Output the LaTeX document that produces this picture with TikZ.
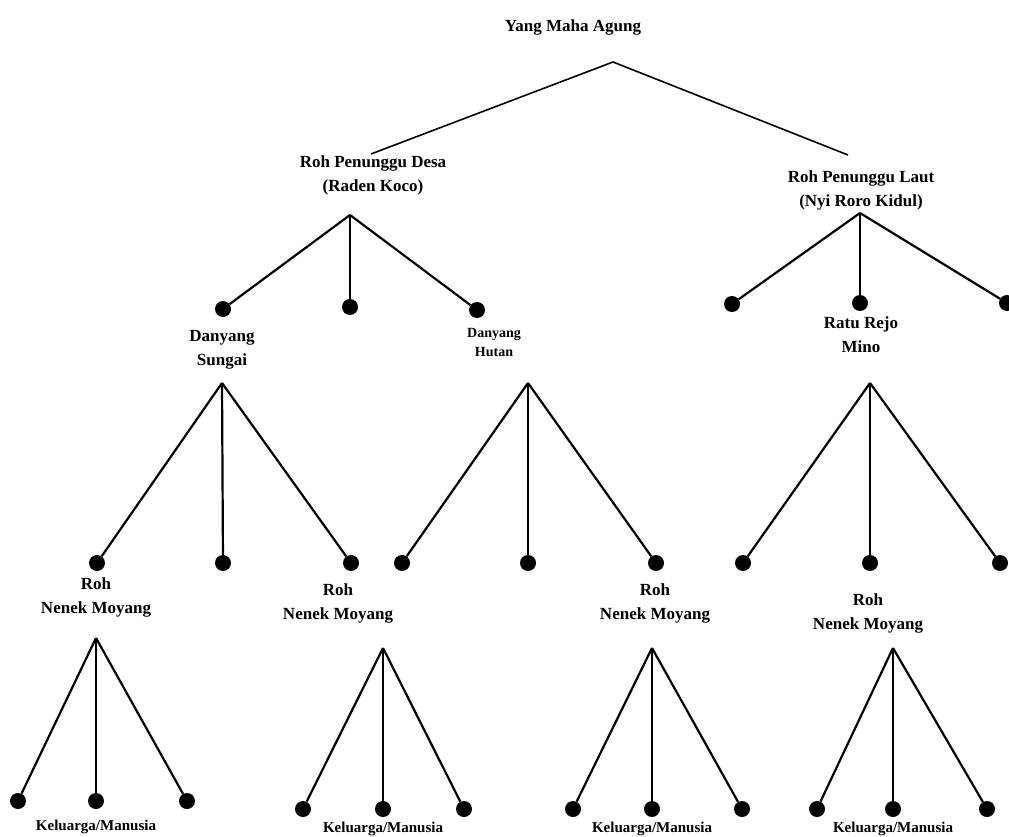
\documentclass[tikz,border=0pt]{standalone}
\usepackage{fontspec}
\setmainfont{Liberation Serif}
\usetikzlibrary{positioning}

\begin{document}
\begin{tikzpicture}[x=1pt, y=-1pt,
    lbl/.style={font=\bfseries\fontsize{17}{24}\selectfont, align=center, inner sep=0pt},
    lblsmall/.style={font=\bfseries\fontsize{14}{19}\selectfont, align=center, inner sep=0pt},
    lblfam/.style={font=\bfseries\fontsize{15}{18}\selectfont, inner sep=0pt},
    dot/.style={circle, fill=black, inner sep=0pt, minimum size=16pt},
    branch/.style={line width=2.2pt},
    toplink/.style={line width=1.6pt}]
    \useasboundingbox (0,0) rectangle (1009,837);

    % Top
    \node[lbl] (agung) at (573,27) {Yang Maha Agung};
    \coordinate (apex0) at (613,62);
    \coordinate (endDesa) at (371,154);
    \coordinate (endLaut) at (848,155);
    \draw[toplink] (endDesa) -- (apex0) -- (endLaut);

    \node[lbl] (desa) at (373,175) {Roh Penunggu Desa\\(Raden Koco)};
    \node[lbl] (laut) at (861,190) {Roh Penunggu Laut\\(Nyi Roro Kidul)};

    % Second level
    \coordinate (apexDesa) at (350,215);
    \node[dot] (ds1) at (223,309) {};
    \node[dot] (ds2) at (350,307) {};
    \node[dot] (ds3) at (477,310) {};
    \draw[branch] (apexDesa) -- (ds1);
    \draw[branch] (apexDesa) -- (ds2);
    \draw[branch] (apexDesa) -- (ds3);

    \coordinate (apexLaut) at (860,213);
    \node[dot] (lt1) at (732,304) {};
    \node[dot] (lt2) at (860,303) {};
    \node[dot] (lt3) at (1007,303) {};
    \draw[branch] (apexLaut) -- (lt1);
    \draw[branch] (apexLaut) -- (lt2);
    \draw[branch] (apexLaut) -- (lt3);

    \node[lbl] (sungai) at (222,350) {Danyang\\Sungai};
    \node[lblsmall] (hutan) at (494,342) {Danyang\\Hutan};
    \node[lbl] (ratu) at (861,335) {Ratu Rejo\\Mino};

    % Third level
    \coordinate (apexSungai) at (222,383);
    \node[dot] (sg1) at (97,563) {};
    \node[dot] (sg2) at (223,563) {};
    \node[dot] (sg3) at (351,563) {};
    \draw[branch] (apexSungai) -- (sg1);
    \draw[branch] (apexSungai) -- (sg2);
    \draw[branch] (apexSungai) -- (sg3);

    \coordinate (apexHutan) at (528,383);
    \node[dot] (ht1) at (402,563) {};
    \node[dot] (ht2) at (528,563) {};
    \node[dot] (ht3) at (656,563) {};
    \draw[branch] (apexHutan) -- (ht1);
    \draw[branch] (apexHutan) -- (ht2);
    \draw[branch] (apexHutan) -- (ht3);

    \coordinate (apexRatu) at (870,383);
    \node[dot] (rt1) at (743,563) {};
    \node[dot] (rt2) at (870,563) {};
    \node[dot] (rt3) at (1000,563) {};
    \draw[branch] (apexRatu) -- (rt1);
    \draw[branch] (apexRatu) -- (rt2);
    \draw[branch] (apexRatu) -- (rt3);

    \node[lbl] (moyangA) at (96,597) {Roh\\Nenek Moyang};
    \node[lbl] (moyangB) at (338,603) {Roh\\Nenek Moyang};
    \node[lbl] (moyangC) at (655,603) {Roh\\Nenek Moyang};
    \node[lbl] (moyangD) at (868,613) {Roh\\Nenek Moyang};

    % Fourth level
    \coordinate (apexA) at (96,638);
    \node[dot] (ka1) at (18,801) {};
    \node[dot] (ka2) at (96,801) {};
    \node[dot] (ka3) at (187,801) {};
    \draw[branch] (apexA) -- (ka1);
    \draw[branch] (apexA) -- (ka2);
    \draw[branch] (apexA) -- (ka3);

    \coordinate (apexB) at (383,648);
    \node[dot] (kb1) at (303,809) {};
    \node[dot] (kb2) at (383,809) {};
    \node[dot] (kb3) at (464,809) {};
    \draw[branch] (apexB) -- (kb1);
    \draw[branch] (apexB) -- (kb2);
    \draw[branch] (apexB) -- (kb3);

    \coordinate (apexC) at (652,648);
    \node[dot] (kc1) at (573,809) {};
    \node[dot] (kc2) at (652,809) {};
    \node[dot] (kc3) at (742,809) {};
    \draw[branch] (apexC) -- (kc1);
    \draw[branch] (apexC) -- (kc2);
    \draw[branch] (apexC) -- (kc3);

    \coordinate (apexD) at (893,648);
    \node[dot] (kd1) at (817,809) {};
    \node[dot] (kd2) at (893,809) {};
    \node[dot] (kd3) at (987,809) {};
    \draw[branch] (apexD) -- (kd1);
    \draw[branch] (apexD) -- (kd2);
    \draw[branch] (apexD) -- (kd3);

    \node[lblfam] (famA) at (96,827) {Keluarga/Manusia};
    \node[lblfam] (famB) at (383,829) {Keluarga/Manusia};
    \node[lblfam] (famC) at (652,829) {Keluarga/Manusia};
    \node[lblfam] (famD) at (893,829) {Keluarga/Manusia};
  \end{tikzpicture}
\end{document}
